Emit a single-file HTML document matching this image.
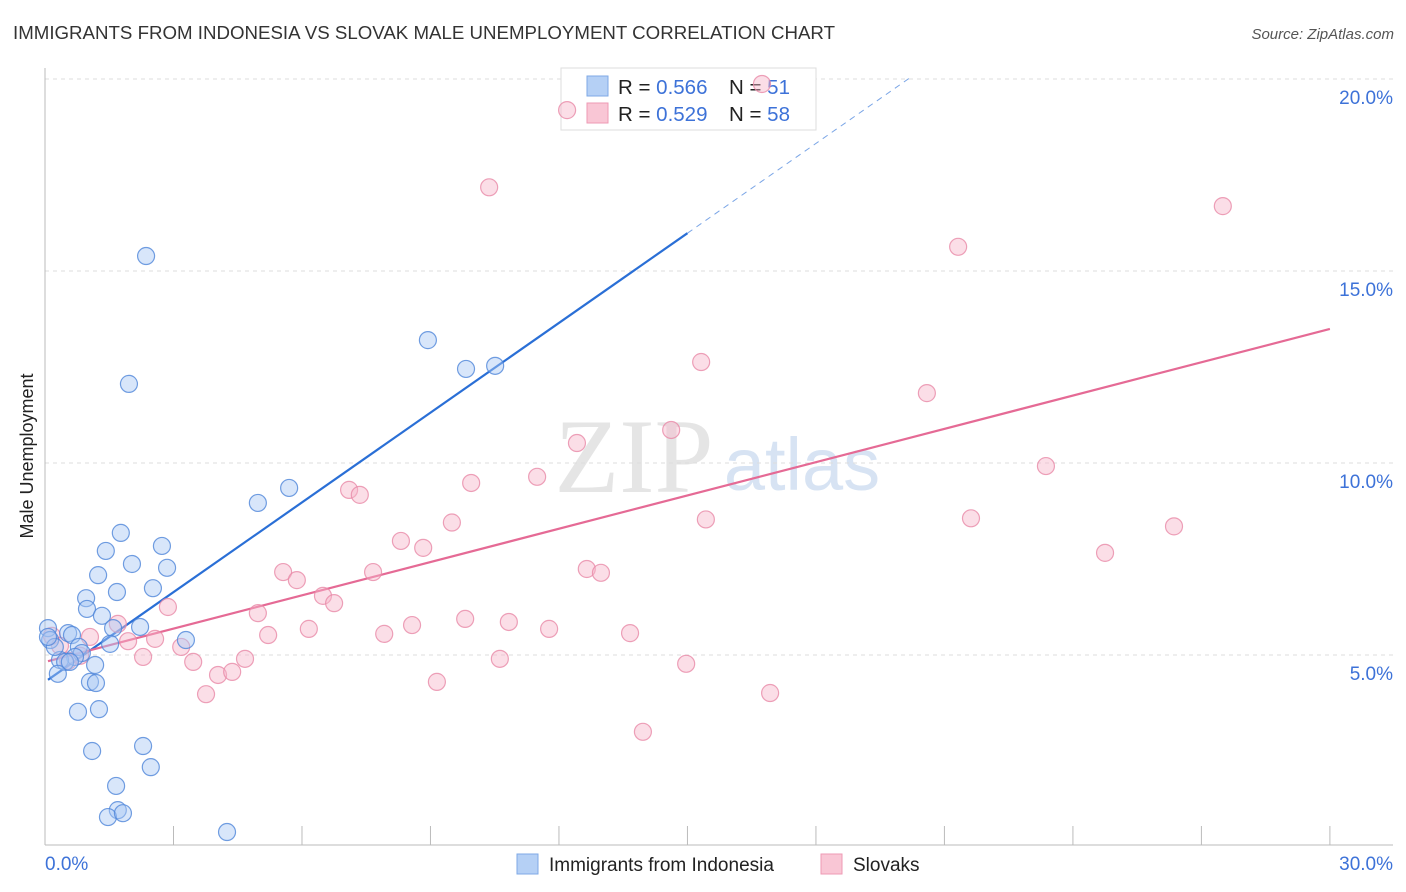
<!DOCTYPE html>
<html><head><meta charset="utf-8"><style>
body{margin:0;background:#fff;font-family:"Liberation Sans",sans-serif;}
svg{display:block}
</style></head><body>
<svg id="chart" width="1406" height="892">
<text x="13" y="39" font-size="18" fill="#333" textLength="822" lengthAdjust="spacingAndGlyphs">IMMIGRANTS FROM INDONESIA VS SLOVAK MALE UNEMPLOYMENT CORRELATION CHART</text>
<text x="1394" y="39" font-size="15" fill="#555" font-style="italic" text-anchor="end">Source: ZipAtlas.com</text>
<text transform="translate(33,456) rotate(-90)" font-size="18" fill="#222" text-anchor="middle">Male Unemployment</text>
<g><text x="634" y="492" font-size="106" fill="#ddd" font-family="Liberation Serif,serif" text-anchor="middle" opacity="0.75">ZIP</text><text x="802" y="490" font-size="74" fill="#c7d8ef" text-anchor="middle" opacity="0.7">atlas</text></g>
<g id="grid"></g><g id="axes"></g>
<g>
<rect x="561" y="68" width="255" height="62" fill="#fff" stroke="#ddd"/>
<rect x="587" y="76" width="21" height="20" fill="#b5d0f5" stroke="#7fa9e6"/>
<rect x="587" y="103" width="21" height="20" fill="#f9c6d5" stroke="#ee9ab4"/>
<text x="618" y="94" font-size="20.5" fill="#222">R = <tspan fill="#3d72d8">0.566</tspan><tspan x="729">N = </tspan><tspan fill="#3d72d8">51</tspan></text>
<text x="618" y="121" font-size="20.5" fill="#222">R = <tspan fill="#3d72d8">0.529</tspan><tspan x="729">N = </tspan><tspan fill="#3d72d8">58</tspan></text>
</g>
<g id="trends"></g><g id="points"></g>
<g>
<rect x="517" y="854" width="21" height="20" fill="#b5d0f5" stroke="#7fa9e6"/>
<text x="549" y="871" font-size="19" fill="#222">Immigrants from Indonesia</text>
<rect x="821" y="854" width="21" height="20" fill="#f9c6d5" stroke="#ee9ab4"/>
<text x="853" y="871" font-size="19" fill="#222">Slovaks</text>
</g>
</svg>
<script>
const blueX=[2.36,1.96,8.94,9.83,10.51,5.70,4.97,1.77,2.73,1.42,2.03,2.85,1.24,2.52,1.68,0.96,0.98,1.33,2.22,1.59,0.07,0.54,0.63,0.12,1.52,0.79,3.29,0.86,0.70,0.35,0.47,1.17,0.30,1.05,1.19,0.77,1.26,2.29,1.10,2.47,1.66,1.70,1.47,1.82,4.25,0.23,0.58,0.07];
const blueY=[15.39,12.06,13.2,12.45,12.53,9.35,8.96,8.18,7.84,7.71,7.37,7.27,7.08,6.74,6.64,6.48,6.2,6.02,5.73,5.70,5.70,5.57,5.52,5.39,5.29,5.21,5.39,5.05,4.95,4.87,4.82,4.74,4.51,4.30,4.27,3.52,3.59,2.63,2.50,2.08,1.59,0.96,0.78,0.88,0.39,5.21,4.82,5.47];
const pinkX=[12.19,16.74,10.37,27.5,21.32,15.32,20.59,12.42,14.62,23.37,7.10,7.35,9.95,11.49,9.50,15.43,21.62,26.36,8.31,8.83,24.75,5.56,5.88,7.66,12.65,12.98,6.49,6.75,2.87,4.97,9.81,10.83,1.70,8.57,6.16,11.77,13.66,5.21,7.92,1.05,2.57,1.94,3.18,2.29,4.67,10.62,14.97,3.46,4.04,4.37,3.76,9.15,16.93,13.96,0.16,0.35,0.54,0.82];
const pinkY=[19.19,19.87,17.18,16.69,15.63,12.63,11.82,10.52,10.86,9.92,9.3,9.17,9.48,9.64,8.45,8.53,8.56,8.35,7.97,7.79,7.66,7.16,6.95,7.16,7.24,7.14,6.54,6.35,6.25,6.09,5.94,5.86,5.81,5.78,5.68,5.68,5.57,5.52,5.55,5.47,5.42,5.36,5.21,4.95,4.9,4.9,4.77,4.82,4.48,4.56,3.98,4.3,4.01,3.0,5.5,5.24,4.85,4.98];
const blueTrend=[4.30,0.779];
const pinkTrend=[4.82,0.289];
const yTicks=[5,10,15,20];
const yTickLabels=["5.0%","10.0%","15.0%","20.0%"];
const xTicks=[0,3,6,9,12,15,18,21,24,27,30];

const NS="http://www.w3.org/2000/svg";
const sx=v=>45+v*42.83, sy=v=>847-v*38.4;
function mk(tag,attrs,parent){const e=document.createElementNS(NS,tag);for(const k in attrs)e.setAttribute(k,attrs[k]);document.getElementById(parent).appendChild(e);return e;}
yTicks.forEach((t,i)=>{
 const l=mk('line',{x1:45,x2:1393,y1:sy(t),y2:sy(t),stroke:'#ddd','stroke-dasharray':'4,4'},'grid');
 
 
 const tx=mk('text',{x:1393,y:sy(t)+25,'font-size':19,fill:'#3d72d8','text-anchor':'end'},'grid');
 tx.textContent=yTickLabels[i];
 
 
});
let a=mk('line',{x1:45,x2:45,y1:68,y2:845,stroke:'#bbb'},'axes');


a=mk('line',{x1:45,x2:1393,y1:845,y2:845,stroke:'#bbb'},'axes');


xTicks.forEach(t=>{
 const l=mk('line',{x1:sx(t),x2:sx(t),y1:826,y2:845,stroke:'#bbb'},'axes');
 
 
});
let t=mk('text',{x:45,y:870,'font-size':19,fill:'#3d72d8'},'axes');t.textContent='0.0%';


t=mk('text',{x:1393,y:870,'font-size':19,fill:'#3d72d8','text-anchor':'end'},'axes');t.textContent='30.0%';


function pts(X,Y,fill,stroke,name){X.forEach((x,i)=>{
 const c=mk('circle',{cx:sx(x),cy:sy(Y[i]),r:8.5,fill:fill,'fill-opacity':0.45,stroke:stroke,'stroke-width':1.2,'stroke-opacity':0.8},'points');
 
 
});}
pts(pinkX,pinkY,'#f7b6c9','#e98aa8','slovaks-point');
pts(blueX,blueY,'#a8c8f3','#4f86d9','indonesia-point');
let tl=mk('line',{x1:sx(0.07),y1:sy(blueTrend[0]+blueTrend[1]*0.07),x2:sx(15),y2:sy(blueTrend[0]+blueTrend[1]*15),stroke:'#2a6fd6','stroke-width':2.2},'trends');


tl=mk('line',{x1:sx(15),y1:sy(blueTrend[0]+blueTrend[1]*15),x2:sx(20.2),y2:sy(blueTrend[0]+blueTrend[1]*20.2),stroke:'#7aa5e6','stroke-width':1,'stroke-dasharray':'6,5'},'trends');


tl=mk('line',{x1:sx(0.07),y1:sy(pinkTrend[0]+pinkTrend[1]*0.07),x2:sx(30),y2:sy(pinkTrend[0]+pinkTrend[1]*30),stroke:'#e56a95','stroke-width':2.2},'trends');


</script>
</body></html>
